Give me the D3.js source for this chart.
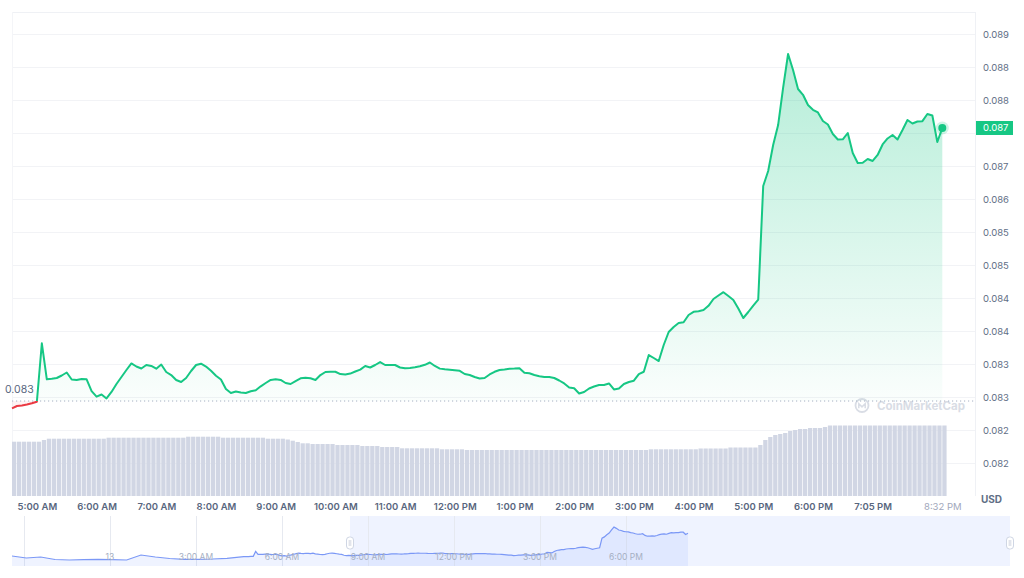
<!DOCTYPE html>
<html>
<head>
<meta charset="utf-8">
<script src="https://cdn.jsdelivr.net/npm/d3@7"></script>
<style>
  body { margin: 0; background: #fff; font-family: Inter, "Noto Sans", sans-serif; }
  svg { display: block; }
</style>
</head>
<body>
<svg id="chart" width="1024" height="578"></svg>
<script>
// price every 5 minutes, 4:35 AM -> live point
const prices = [
  0.082829, 0.082864, 0.082871, 0.082886, 0.082905, 0.082929, 0.083814, 0.083268, 0.083276, 0.083288,
  0.083326, 0.083371, 0.083265, 0.083258, 0.083273, 0.083268, 0.083090, 0.083005, 0.083038, 0.082978,
  0.083076, 0.083197, 0.083303, 0.083409, 0.083508, 0.083462, 0.083432, 0.083485, 0.083470, 0.083429,
  0.083492, 0.083379, 0.083333, 0.083258, 0.083227, 0.083288, 0.083394, 0.083485, 0.083505, 0.083462,
  0.083398, 0.083323, 0.083265, 0.083121, 0.083061, 0.083083, 0.083068, 0.083061, 0.083086, 0.083102,
  0.083162, 0.083212, 0.083258, 0.083268, 0.083258, 0.083212, 0.083197, 0.083242, 0.083283, 0.083292,
  0.083283, 0.083258, 0.083333, 0.083379, 0.083383, 0.083383, 0.083348, 0.083341, 0.083355, 0.083386,
  0.083414, 0.083470, 0.083447, 0.083485, 0.083530, 0.083485, 0.083485, 0.083485, 0.083447, 0.083435,
  0.083439, 0.083450, 0.083465, 0.083488, 0.083523, 0.083470, 0.083430, 0.083420, 0.083414, 0.083406,
  0.083397, 0.083348, 0.083333, 0.083303, 0.083280, 0.083288, 0.083341, 0.083382, 0.083409, 0.083417,
  0.083427, 0.083430, 0.083435, 0.083368, 0.083359, 0.083333, 0.083315, 0.083303, 0.083303, 0.083288,
  0.083250, 0.083205, 0.083144, 0.083132, 0.083053, 0.083076, 0.083129, 0.083159, 0.083182, 0.083182,
  0.083205, 0.083114, 0.083129, 0.083197, 0.083227, 0.083247, 0.083348, 0.083383, 0.083636, 0.083591,
  0.083545, 0.083788, 0.083985, 0.084061, 0.084121, 0.084132, 0.084242, 0.084291, 0.084300, 0.084318,
  0.084382, 0.084485, 0.084538, 0.084588, 0.084530, 0.084470, 0.084341, 0.084197, 0.084288, 0.084386,
  0.084477, 0.086197, 0.086424, 0.086818, 0.087121, 0.087682, 0.088197, 0.087955, 0.087667, 0.087579,
  0.087424, 0.087352, 0.087311, 0.087182, 0.087129, 0.086985, 0.086902, 0.086905, 0.087000, 0.086697,
  0.086545, 0.086548, 0.086606, 0.086576, 0.086667, 0.086826, 0.086917, 0.086970, 0.086902, 0.087045,
  0.087197, 0.087144, 0.087174, 0.087179, 0.087288, 0.087265, 0.086864, 0.087076
];

// volume per 5 min bar (millions)
const volumes = [
  5.43, 5.43, 5.43, 5.43, 5.43, 5.43, 5.60, 5.73, 5.73, 5.73,
  5.73, 5.73, 5.73, 5.73, 5.73, 5.73, 5.73, 5.73, 5.73, 5.83,
  5.83, 5.83, 5.83, 5.83, 5.83, 5.83, 5.83, 5.83, 5.83, 5.83,
  5.83, 5.83, 5.83, 5.83, 5.83, 5.93, 5.93, 5.93, 5.93, 5.93,
  5.93, 5.93, 5.83, 5.83, 5.83, 5.83, 5.83, 5.83, 5.83, 5.83,
  5.83, 5.73, 5.73, 5.73, 5.73, 5.65, 5.53, 5.40, 5.27, 5.27,
  5.20, 5.20, 5.20, 5.20, 5.20, 5.10, 5.10, 5.10, 5.10, 5.10,
  5.00, 5.00, 5.00, 5.00, 4.90, 4.90, 4.90, 4.90, 4.77, 4.77,
  4.77, 4.77, 4.77, 4.77, 4.77, 4.77, 4.67, 4.67, 4.67, 4.67,
  4.67, 4.60, 4.60, 4.60, 4.60, 4.60, 4.60, 4.60, 4.60, 4.60,
  4.60, 4.60, 4.60, 4.60, 4.60, 4.60, 4.60, 4.60, 4.60, 4.60,
  4.60, 4.60, 4.60, 4.60, 4.60, 4.60, 4.60, 4.60, 4.60, 4.60,
  4.60, 4.60, 4.60, 4.60, 4.60, 4.60, 4.60, 4.60, 4.67, 4.67,
  4.67, 4.67, 4.67, 4.67, 4.67, 4.67, 4.67, 4.67, 4.75, 4.75,
  4.75, 4.75, 4.75, 4.75, 4.85, 4.85, 4.85, 4.85, 4.85, 4.85,
  5.10, 5.60, 5.90, 6.10, 6.20, 6.30, 6.50, 6.60, 6.70, 6.70,
  6.80, 6.80, 6.80, 6.90, 7.05, 7.05, 7.05, 7.05, 7.05, 7.05,
  7.05, 7.05, 7.05, 7.05, 7.05, 7.05, 7.05, 7.05, 7.05, 7.05,
  7.05, 7.05, 7.05, 7.05, 7.05, 7.05, 7.05, 7.05
];

const openPrice = 0.082939;
const openLabel = "0.083";
const lastLabel = "0.087";

const yTicks = [0.0820, 0.0825, 0.0830, 0.0835, 0.0840, 0.0845, 0.0850, 0.0855, 0.0860, 0.0865, 0.0870, 0.0875, 0.0880, 0.0885];
// the 0.0870 label sits under the live price tag, so it is not shown
const yTickLabels = ["0.082", "0.082", "0.083", "0.083", "0.084", "0.084", "0.085", "0.085", "0.086", "0.087", "", "0.088", "0.088", "0.089"];

const xTickIdx = [5, 17, 29, 41, 53, 65, 77, 89, 101, 113, 125, 137, 149, 161, 173, 187];
const xTickLabels = ["5:00 AM", "6:00 AM", "7:00 AM", "8:00 AM", "9:00 AM", "10:00 AM", "11:00 AM", "12:00 PM",
  "1:00 PM", "2:00 PM", "3:00 PM", "4:00 PM", "5:00 PM", "6:00 PM", "7:05 PM", "8:32 PM"];

// navigator: earlier half-hourly prices (from 8:35 PM the day before), then the 5-min series
const navEarly = [0.082986, 0.082627, 0.082806, 0.082357, 0.082267, 0.082321, 0.082393, 0.082321,
  0.082267, 0.083166, 0.082806, 0.082537, 0.082393, 0.082393, 0.082447, 0.082573];
const navTickTimes = ["2022-01-12T21:00", "2022-01-13T00:00", "2022-01-13T03:00", "2022-01-13T06:00",
  "2022-01-13T09:00", "2022-01-13T12:00", "2022-01-13T15:00", "2022-01-13T18:00"];
const navTickLabels = ["", "13", "3:00 AM", "6:00 AM", "9:00 AM", "12:00 PM", "3:00 PM", "6:00 PM"];

const green = "#16c784", red = "#ea3943";
const svg = d3.select("#chart");

const plotLeft = 12, plotRight = 975, plotTop = 12, plotBottom = 496;

let x = d3.scaleLinear().domain([0, prices.length - 1]).range([plotLeft, 942.3]);
let y = d3.scaleLinear().domain([0.0820, 0.0885]).range([463, 34]);
let yVol = d3.scaleLinear().domain([0, 8]).range([plotBottom, 416]);
const step = x(1) - x(0);

//#region grid + frame
svg.append("g").selectAll("line").data(yTicks).join("line")
  .attr("x1", plotLeft).attr("x2", plotRight)
  .attr("y1", d => Math.round(y(d)) + 0.5).attr("y2", d => Math.round(y(d)) + 0.5)
  .attr("stroke", "#f2f3f6");
svg.append("line").attr("x1", plotLeft).attr("x2", plotRight).attr("y1", plotTop + 0.5).attr("y2", plotTop + 0.5).attr("stroke", "#eff1f5");
svg.append("line").attr("x1", plotRight + 0.5).attr("x2", plotRight + 0.5).attr("y1", plotTop).attr("y2", plotBottom).attr("stroke", "#eff1f5");
svg.append("line").attr("x1", plotLeft + 0.5).attr("x2", plotLeft + 0.5).attr("y1", plotTop).attr("y2", plotBottom).attr("stroke", "#f4f5f8");
//#endregion

// volume bars
svg.append("g").selectAll("rect").data(volumes).join("rect")
  .attr("x", (d, i) => x(i))
  .attr("width", step * 0.86)
  .attr("y", d => yVol(d))
  .attr("height", d => plotBottom - yVol(d))
  .attr("fill", "#d1d6e4");

// watermark
const wm = svg.append("g").attr("transform", "translate(862,405.5)");
wm.append("circle").attr("r", 6.5).attr("fill", "none").attr("stroke", "#d9dde5").attr("stroke-width", 1.8);
wm.append("path").attr("d", "M-3.2,2.8 L-3.2,-1.8 L0,1.4 L3.2,-1.8 L3.2,2.8").attr("fill", "none").attr("stroke", "#d9dde5").attr("stroke-width", 1.5);
wm.append("text").attr("x", 15).attr("y", 4.2).text("CoinMarketCap")
  .attr("font-size", 11.5).attr("font-weight", 700).attr("fill", "#d9dde5");

// price line + area, split at open price
const yBase = y(openPrice);
const defs = svg.append("defs");
const grad = defs.append("linearGradient").attr("id", "gGreen").attr("gradientUnits", "userSpaceOnUse")
  .attr("x1", 0).attr("x2", 0).attr("y1", 40).attr("y2", yBase);
grad.append("stop").attr("offset", 0).attr("stop-color", green).attr("stop-opacity", 0.33);
grad.append("stop").attr("offset", 1).attr("stop-color", green).attr("stop-opacity", 0.02);
defs.append("clipPath").attr("id", "above").append("rect").attr("x", 0).attr("y", 0).attr("width", 1024).attr("height", yBase);
defs.append("clipPath").attr("id", "below").append("rect").attr("x", 0).attr("y", yBase).attr("width", 1024).attr("height", 200);

const line = d3.line().x((d, i) => x(i)).y(d => y(d));
const area = d3.area().x((d, i) => x(i)).y0(yBase).y1(d => y(d));

svg.append("path").datum(prices).attr("d", area).attr("fill", "url(#gGreen)").attr("clip-path", "url(#above)");
svg.append("path").datum(prices).attr("d", area).attr("fill", red).attr("fill-opacity", 0.06).attr("clip-path", "url(#below)");

svg.append("line").attr("x1", plotLeft).attr("x2", plotRight).attr("y1", yBase).attr("y2", yBase)
  .attr("stroke", "#a6b0c3").attr("stroke-dasharray", "1.2,2.8");

svg.append("path").datum(prices).attr("d", line).attr("fill", "none").attr("stroke", green)
  .attr("stroke-width", 2).attr("stroke-linejoin", "round").attr("clip-path", "url(#above)");
svg.append("path").datum(prices).attr("d", line).attr("fill", "none").attr("stroke", red)
  .attr("stroke-width", 2).attr("stroke-linejoin", "round").attr("clip-path", "url(#below)");

const last = prices.length - 1;
svg.append("circle").attr("cx", x(last)).attr("cy", y(prices[last])).attr("r", 6.5).attr("fill", green).attr("fill-opacity", 0.2);
svg.append("circle").attr("cx", x(last)).attr("cy", y(prices[last])).attr("r", 4).attr("fill", green);

svg.append("text").attr("x", 5).attr("y", yBase - 8).text(openLabel)
  .attr("font-size", 10.5).attr("fill", "#58667e");

//#region axes
let yAxis = d3.axisRight(y).tickValues(yTicks).tickFormat((d, i) => yTickLabels[i]).tickSize(0).tickPadding(8);
const gy = svg.append("g").attr("transform", `translate(${plotRight},0)`).call(yAxis);
gy.select(".domain").remove();
gy.selectAll("text").attr("font-family", "Inter, sans-serif").attr("font-size", 9.5).attr("fill", "#616e85");

let xAxis = d3.axisBottom(x).tickValues(xTickIdx).tickFormat((d, i) => xTickLabels[i]).tickSize(0).tickPadding(7);
const gx = svg.append("g").attr("transform", `translate(0,${plotBottom})`).call(xAxis);
gx.select(".domain").remove();
gx.selectAll("text").attr("font-family", "Inter, sans-serif").attr("font-size", 9.5)
  .attr("font-weight", 600).attr("fill", "#58667e");
gx.selectAll("text").filter((d, i) => i === xTickIdx.length - 1).attr("font-weight", 400).attr("fill", "#a1a7bb");

svg.append("text").attr("x", 981).attr("y", 503).text("USD")
  .attr("font-size", 10).attr("font-weight", 700).attr("fill", "#616e85");

// last price tag
const yl = y(prices[last]);
svg.append("rect").attr("x", plotRight + 1).attr("y", yl - 7).attr("width", 37).attr("height", 14).attr("fill", green);
svg.append("text").attr("x", plotRight + 8).attr("y", yl + 3.5).text(lastLabel)
  .attr("font-size", 9.5).attr("fill", "#fff");
//#endregion

//#region navigator
const navTop = 516, navBottom = 566;
const t0 = new Date("2022-01-12T20:35"), t4 = new Date("2022-01-13T04:35");
const navData = navEarly.map((v, k) => ({ t: d3.timeMinute.offset(t0, 30 * k), v }))
  .concat(prices.map((v, i) => ({ t: d3.timeMinute.offset(t4, 5 * i), v })));
let xNav = d3.scaleTime().domain([t0, navData[navData.length - 1].t]).range([plotLeft, 688]);
let yNav = d3.scaleLinear().domain([0.08119, 0.09018]).range([navBottom, navTop]);

svg.append("rect").attr("x", 350).attr("y", navTop).attr("width", 1010 - 350).attr("height", navBottom - navTop)
  .attr("fill", "#6188ff").attr("fill-opacity", 0.1);

const navTimes = navTickTimes.map(s => new Date(s));
svg.append("g").selectAll("line").data(navTimes).join("line")
  .attr("x1", d => Math.round(xNav(d)) + 0.5).attr("x2", d => Math.round(xNav(d)) + 0.5)
  .attr("y1", navTop).attr("y2", navBottom).attr("stroke", "#e6e9f0");

svg.append("path").datum(navData)
  .attr("d", d3.area().x(d => xNav(d.t)).y0(navBottom).y1(d => yNav(d.v)))
  .attr("fill", "#6188ff").attr("fill-opacity", 0.1);
svg.append("path").datum(navData)
  .attr("d", d3.line().x(d => xNav(d.t)).y(d => yNav(d.v)))
  .attr("fill", "none").attr("stroke", "#7b98f6").attr("stroke-width", 1.2);

svg.append("g").selectAll("text").data(navTimes).join("text")
  .attr("x", d => xNav(d)).attr("y", 560).attr("text-anchor", "middle")
  .text((d, i) => navTickLabels[i])
  .attr("font-size", 8.5).attr("fill", "#a6b0c3");

[350, 1010].forEach(hx => {
  svg.append("rect").attr("x", hx - 3.5).attr("y", 537).attr("width", 7).attr("height", 12).attr("rx", 3)
    .attr("fill", "#fff").attr("stroke", "#cfd6e4");
  svg.append("line").attr("x1", hx - 0.8).attr("x2", hx - 0.8).attr("y1", 540).attr("y2", 546).attr("stroke", "#b8c0d0").attr("stroke-width", 0.6);
  svg.append("line").attr("x1", hx + 0.8).attr("x2", hx + 0.8).attr("y1", 540).attr("y2", 546).attr("stroke", "#b8c0d0").attr("stroke-width", 0.6);
});
//#endregion
</script>
</body>
</html>
